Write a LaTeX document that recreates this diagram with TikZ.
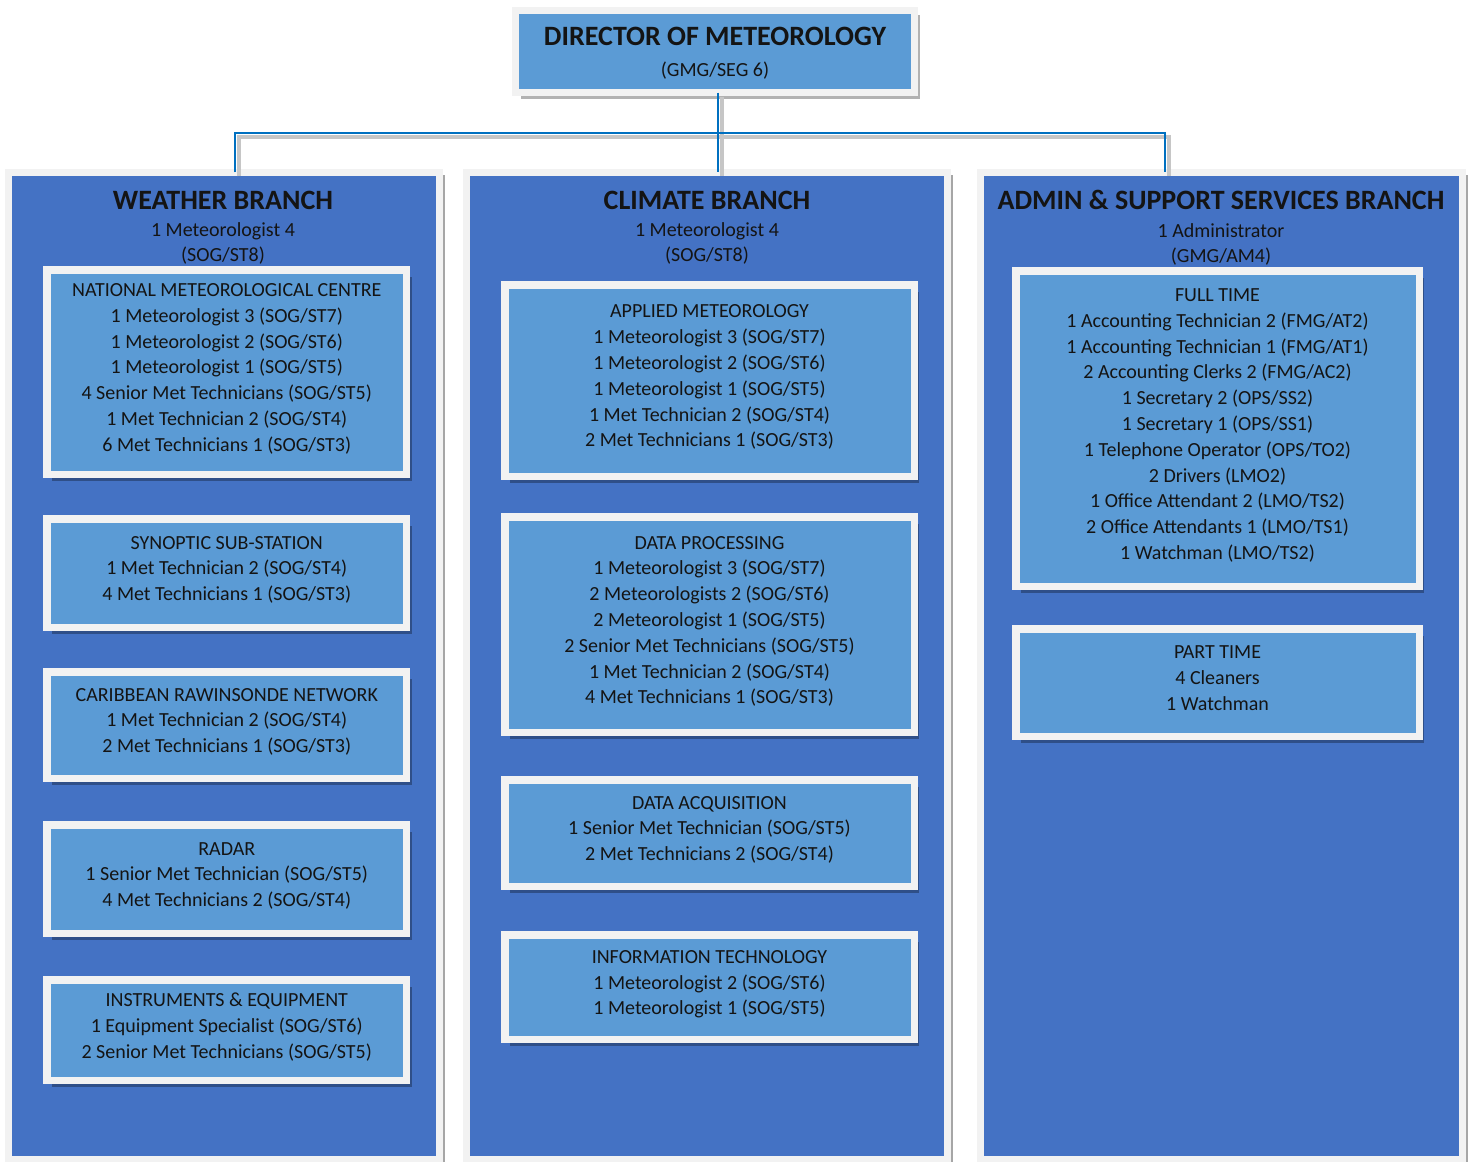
\documentclass[tikz,border=0pt]{standalone}
\usepackage{fontspec}
\setmainfont{Carlito}
\usetikzlibrary{positioning,shadows}
\definecolor{panelblue}{HTML}{4472C4}
\definecolor{boxblue}{HTML}{5B9BD5}
\definecolor{framegrey}{HTML}{F2F2F2}
\definecolor{linkblue}{HTML}{0070C0}
\definecolor{inkdark}{HTML}{141414}

\begin{document}
\begin{tikzpicture}[x=1pt,y=-1pt,
  size/.style 2 args={minimum width=#1pt,minimum height=#2pt},
  panel/.style={draw=framegrey,line width=7pt,fill=panelblue,inner sep=0pt,
    drop shadow={shadow xshift=5pt,shadow yshift=-3pt,fill=gray!70,opacity=1}},
  unit/.style={draw=framegrey,line width=7.5pt,fill=boxblue,inner sep=0pt,align=center,
    text=inkdark,font=\fontsize{20}{25.8}\selectfont,text depth=9pt,
    drop shadow={shadow xshift=5pt,shadow yshift=-7pt,fill=black,opacity=0.3}},
  head/.style={text=inkdark,font=\bfseries\fontsize{28}{30}\selectfont,inner sep=0pt},
  staff/.style={text=inkdark,align=center,font=\fontsize{20}{25}\selectfont,inner sep=0pt},
  link/.style={draw=linkblue,line width=2.6pt,shorten <=-3.5pt,shorten >=-3.5pt},
  linkshade/.style={link,draw=gray!45,line width=3.5pt,transform canvas={xshift=4pt,yshift=-4pt}}]
\useasboundingbox (0,0) rectangle (1471,1161);

% director
\node[unit,size={399}{82},text depth=0pt,
  drop shadow={shadow xshift=5pt,shadow yshift=-5pt,fill=gray!60,opacity=1}]
  (dir) at (715,51.5)
  {{\bfseries\fontsize{28}{30}\selectfont DIRECTOR OF METEOROLOGY}\\[5pt]
   {\fontsize{20}{22}\selectfont (GMG/SEG 6)}};

% branch panels
\node[panel,size={431}{986.5}] (wpanel) at (224,665.75) {};
\node[panel,size={481}{986.5}] (cpanel) at (707,665.75) {};
\node[panel,size={482}{986.5}] (apanel) at (1221.5,665.75) {};

\node[head] (whead) at (223,200) {WEATHER BRANCH};
\node[staff,below=13pt of whead] (wstaff) {1 Meteorologist 4\\(SOG/ST8)};
\node[head] (chead) at (707,200) {CLIMATE BRANCH};
\node[staff,below=13pt of chead] (cstaff) {1 Meteorologist 4\\(SOG/ST8)};
\node[head] (ahead) at (1221,200) {ADMIN \& SUPPORT SERVICES BRANCH};
\node[staff,below=13pt of ahead] (astaff) {1 Administrator\\(GMG/AM4)};

% weather branch
\node[unit,size={359.5}{204.5}] (nmc) at (226.75,372) {NATIONAL METEOROLOGICAL CENTRE\\
  1 Meteorologist 3 (SOG/ST7)\\1 Meteorologist 2 (SOG/ST6)\\1 Meteorologist 1 (SOG/ST5)\\
  4 Senior Met Technicians (SOG/ST5)\\1 Met Technician 2 (SOG/ST4)\\6 Met Technicians 1 (SOG/ST3)};
\node[unit,size={359.5}{108.5}] (sss) at (226.75,573) {SYNOPTIC SUB-STATION\\
  1 Met Technician 2 (SOG/ST4)\\4 Met Technicians 1 (SOG/ST3)};
\node[unit,size={359.5}{106.5}] (crn) at (226.75,725) {CARIBBEAN RAWINSONDE NETWORK\\
  1 Met Technician 2 (SOG/ST4)\\2 Met Technicians 1 (SOG/ST3)};
\node[unit,size={359.5}{108.5}] (radar) at (226.75,879) {RADAR\\
  1 Senior Met Technician (SOG/ST5)\\4 Met Technicians 2 (SOG/ST4)};
\node[unit,size={359.5}{100.5}] (inst) at (226.75,1030) {INSTRUMENTS \& EQUIPMENT\\
  1 Equipment Specialist (SOG/ST6)\\2 Senior Met Technicians (SOG/ST5)};

% climate branch
\node[unit,size={409.5}{191.5}] (appl) at (709.5,380.5) {APPLIED METEOROLOGY\\
  1 Meteorologist 3 (SOG/ST7)\\1 Meteorologist 2 (SOG/ST6)\\1 Meteorologist 1 (SOG/ST5)\\
  1 Met Technician 2 (SOG/ST4)\\2 Met Technicians 1 (SOG/ST3)};
\node[unit,size={409.5}{215.5}] (dproc) at (709.5,624.5) {DATA PROCESSING\\
  1 Meteorologist 3 (SOG/ST7)\\2 Meteorologists 2 (SOG/ST6)\\2 Meteorologist 1 (SOG/ST5)\\
  2 Senior Met Technicians (SOG/ST5)\\1 Met Technician 2 (SOG/ST4)\\4 Met Technicians 1 (SOG/ST3)};
\node[unit,size={409.5}{106.5}] (dacq) at (709.5,833) {DATA ACQUISITION\\
  1 Senior Met Technician (SOG/ST5)\\2 Met Technicians 2 (SOG/ST4)};
\node[unit,size={409.5}{104.5}] (itech) at (709.5,987) {INFORMATION TECHNOLOGY\\
  1 Meteorologist 2 (SOG/ST6)\\1 Meteorologist 1 (SOG/ST5)};

% admin branch
\node[unit,size={403.5}{315.5}] (full) at (1217.5,428.5) {FULL TIME\\
  1 Accounting Technician 2 (FMG/AT2)\\1 Accounting Technician 1 (FMG/AT1)\\
  2 Accounting Clerks 2 (FMG/AC2)\\1 Secretary 2 (OPS/SS2)\\1 Secretary 1 (OPS/SS1)\\
  1 Telephone Operator (OPS/TO2)\\2 Drivers (LMO2)\\1 Office Attendant 2 (LMO/TS2)\\
  2 Office Attendants 1 (LMO/TS1)\\1 Watchman (LMO/TS2)};
\node[unit,size={403.5}{107.5}] (part) at (1217.5,682.5) {PART TIME\\4 Cleaners\\1 Watchman};

% connectors
\coordinate (wdrop) at (235,133);
\coordinate (cdrop) at (718,133);
\coordinate (adrop) at (1165,133);
\draw[linkshade] (wdrop |- wpanel.north) -- (wdrop) -- (adrop) -- (adrop |- apanel.north);
\draw[linkshade] (cdrop |- dir.south) -- (cdrop |- cpanel.north);
\draw[link] (wdrop |- wpanel.north) -- (wdrop) -- (adrop) -- (adrop |- apanel.north);
\draw[link] (cdrop |- dir.south) -- (cdrop |- cpanel.north);
\end{tikzpicture}
\end{document}
